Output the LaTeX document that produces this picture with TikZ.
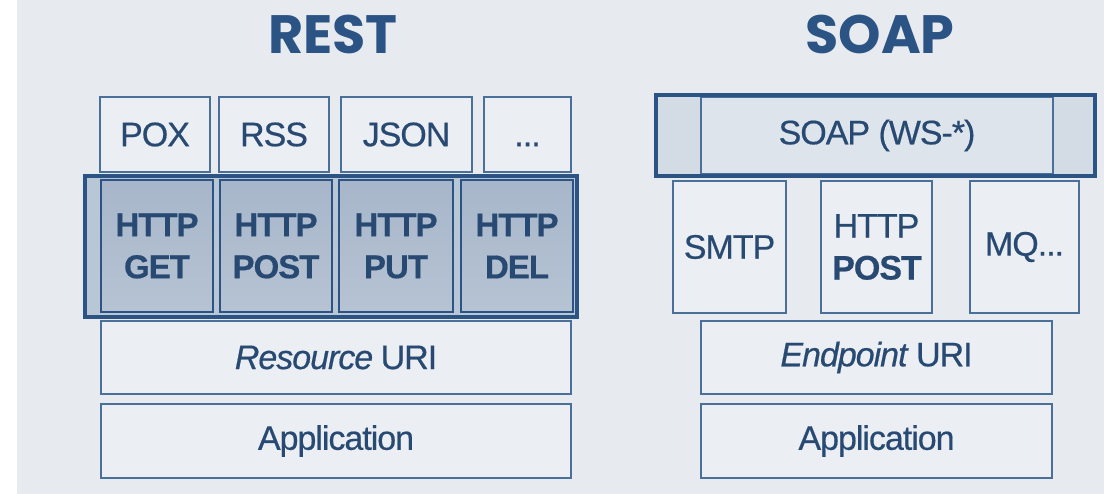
\documentclass[tikz,border=0pt]{standalone}
\usepackage{fontspec}
\setmainfont{Liberation Sans}[FakeBold=0.5, LetterSpace=-3]
\newfontfamily\titlefont{Poppins}
\definecolor{bg}{HTML}{E7EBF0}
\definecolor{edge}{HTML}{4A6F98}
\definecolor{darkedge}{HTML}{2B5383}
\definecolor{txt}{HTML}{284A72}
\definecolor{boxfill}{HTML}{EBEEF3}
\definecolor{httpfillA}{HTML}{A7B6CA}
\definecolor{httpfillB}{HTML}{B6C3D3}
\definecolor{grpfill}{HTML}{B9C6D6}
\definecolor{soapfill}{HTML}{DDE4EC}
\definecolor{soapside}{HTML}{D3DBE5}
\begin{document}
\begin{tikzpicture}[x=1pt,y=-1pt,
  box/.style={draw=edge, line width=1.8pt, fill=boxfill, text=txt, inner sep=0pt,
    font=\fontsize{34}{42}\selectfont, align=center},
  httpbox/.style={draw=darkedge, line width=2.4pt, top color=httpfillA, bottom color=httpfillB,
    text=txt, inner sep=0pt, font=\fontsize{33}{42}\selectfont\bfseries, align=center},
  group/.style={draw=darkedge, line width=3.4pt, inner sep=0pt},
  title/.style={text=darkedge, font=\fontsize{54}{60}\selectfont\titlefont\bfseries, inner sep=0pt}
]
\useasboundingbox (0,0) rectangle (1104,494);
\fill[white] (0,0) rectangle (1104,494);
\fill[bg] (17,0) rectangle (1104,494);

% titles
\node[title] (rest) at (333,34) {REST};
\node[title] (soap) at (880,34) {SOAP};

% REST side
\node[box, minimum width=110pt, minimum height=75pt] (pox) at (155,134.5) {POX};
\node[box, minimum width=110pt, minimum height=75pt] (rss) at (274,134.5) {RSS};
\node[box, minimum width=131pt, minimum height=75pt] (json) at (406.5,134.5) {JSON};
\node[box, minimum width=87pt, minimum height=75pt] (more) at (527.5,134.5) {\vphantom{X}...};

\node[group, fill=grpfill, minimum width=492pt, minimum height=141pt] (grp) at (331,246.5) {};
\node[httpbox, minimum width=112pt, minimum height=132pt] (get) at (157,246) {HTTP\\GET};
\node[httpbox, minimum width=112pt, minimum height=132pt] (post) at (276,246) {HTTP\\POST};
\node[httpbox, minimum width=114pt, minimum height=132pt] (put) at (396,246) {HTTP\\PUT};
\node[httpbox, minimum width=112pt, minimum height=132pt] (del) at (517,246) {HTTP\\DEL};
\node[group, minimum width=492pt, minimum height=141pt] (grpborder) at (331,246.5) {};

\node[box, minimum width=470pt, minimum height=73pt] (ruri) at (336,357.5) {\textit{Resource} URI};
\node[box, minimum width=470pt, minimum height=74pt] (rapp) at (336,441) {Application};

% SOAP side
\node[group, fill=soapside, minimum width=439pt, minimum height=81pt] (soapgrp) at (875.5,135.5) {};
\node[draw=edge, line width=1.2pt, fill=soapfill, minimum width=352pt, minimum height=76pt, inner sep=0pt,
  text=txt, font=\fontsize{34}{42}\selectfont] (ws) at (877,135.5) {SOAP (WS-*)};
\node[group, minimum width=439pt, minimum height=81pt] (soapborder) at (875.5,135.5) {};

\node[box, minimum width=113pt, minimum height=132pt] (smtp) at (729.5,247) {SMTP};
\node[box, minimum width=111pt, minimum height=132pt] (spost) at (876.5,247) {HTTP\\\textbf{POST}};
\node[box, minimum width=109pt, minimum height=132pt] (mq) at (1024.5,247) {MQ...};

\node[box, minimum width=351pt, minimum height=73pt] (euri) at (876.5,357.5) {\textit{Endpoint} URI};
\node[box, minimum width=351pt, minimum height=74pt] (sapp) at (876.5,441) {Application};
\end{tikzpicture}
\end{document}
